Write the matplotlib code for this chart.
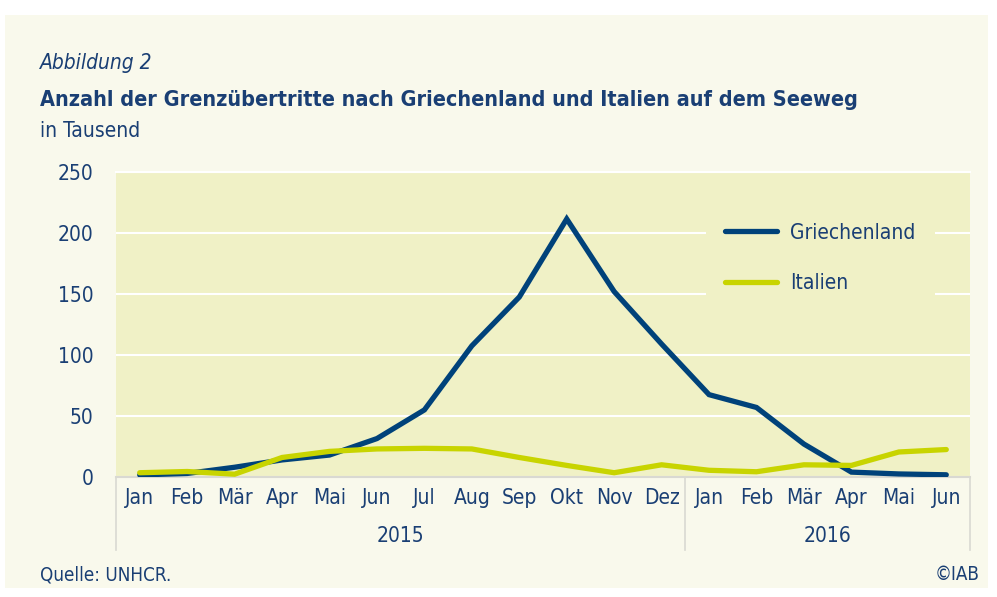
import matplotlib.pyplot as plt
from matplotlib.patches import Rectangle
from matplotlib.lines import Line2D
import matplotlib.transforms as mtransforms

months = ["Jan", "Feb", "Mär", "Apr", "Mai", "Jun", "Jul", "Aug", "Sep", "Okt", "Nov", "Dez",
          "Jan", "Feb", "Mär", "Apr", "Mai", "Jun"]
years = ["2015", "2016"]
griechenland = [1.7, 2.9, 8, 14, 18, 31.5, 55, 107.5, 147.5, 211.5, 152, 109,
                67.5, 57, 27, 4, 2.5, 1.8]
italien = [3.5, 4.5, 2.3, 16, 21, 23, 23.5, 23, 16, 9.5, 3.5, 10,
           5.5, 4.3, 10, 9.5, 20.5, 22.5]

blue = "#00427a"
lime = "#c8d400"
txt = "#1a3f74"
panel = "#f9f9ec"
plotbg = "#f0f1c6"
grey = "#d9d9d2"

plt.rcParams['font.family'] = ['DejaVu Sans']
plt.rcParams['font.stretch'] = 'condensed'

fig = plt.figure(figsize=(9.97, 5.97), dpi=100, facecolor="white")
W, H = 997, 597
fig.patches.append(Rectangle((5 / W, 1 - 588 / H), 983 / W, 573 / H,
                             transform=fig.transFigure, facecolor=panel, edgecolor="none", zorder=-5))

ax = fig.add_axes([116 / W, 1 - 477 / H, 854 / W, 305 / H])
ax.set_facecolor(plotbg)
x = range(len(months))
ax.plot(x, griechenland, color=blue, lw=3.8, solid_capstyle="round", solid_joinstyle="miter",
        label="Griechenland", zorder=3)
ax.plot(x, italien, color=lime, lw=3.8, solid_capstyle="round", solid_joinstyle="miter",
        label="Italien", zorder=3)

ax.set_xlim(-0.5, 17.5)
ax.set_ylim(0, 250)
ax.set_yticks([0, 50, 100, 150, 200, 250])
ax.set_xticks(list(x))
ax.set_xticklabels(months)
ax.tick_params(axis="both", length=0, labelsize=15, labelcolor=txt)
ax.tick_params(axis="y", pad=16)
ax.tick_params(axis="x", pad=8)
ax.grid(axis="y", color="white", lw=1.5)
ax.set_axisbelow(True)
for s in ["right", "left"]:
    ax.spines[s].set_visible(False)
ax.spines["top"].set_color("white")
ax.spines["top"].set_linewidth(1.5)
ax.spines["bottom"].set_color(grey)
ax.spines["bottom"].set_linewidth(1.5)

# year group separators and labels
trans = mtransforms.blended_transform_factory(ax.transData, ax.transAxes)
for xs in [-0.5, 11.5, 17.5]:
    ax.add_line(Line2D([xs, xs], [0, -73 / 305], transform=trans, color=grey, lw=1.2, clip_on=False))
ax.text(5.5, -59 / 305, years[0], transform=trans, ha="center", va="center", fontsize=15, color=txt)
ax.text(14.5, -59 / 305, years[1], transform=trans, ha="center", va="center", fontsize=15, color=txt)

leg = ax.legend(loc="upper left", bbox_to_anchor=(590 / 854, 1 - 32 / 305), frameon=True,
                fontsize=15, handlelength=2.5, handletextpad=0.65, labelspacing=1.45,
                borderpad=0.9, borderaxespad=0, fancybox=False)
leg.get_frame().set_facecolor(plotbg)
leg.get_frame().set_edgecolor("none")
leg.get_frame().set_alpha(1)
for t in leg.get_texts():
    t.set_color(txt)

fig.text(40 / W, 1 - 63 / H, "Abbildung 2", fontsize=15, style="italic", color=txt, va="center")
fig.text(40 / W, 1 - 100 / H, "Anzahl der Grenzübertritte nach Griechenland und Italien auf dem Seeweg",
         fontsize=15.5, weight="bold", color=txt, va="center")
fig.text(40 / W, 1 - 131 / H, "in Tausend", fontsize=15, color=txt, va="center")
fig.text(40 / W, 1 - 575 / H, "Quelle: UNHCR.", fontsize=13.5, color=txt, va="center")
fig.text(980 / W, 1 - 575 / H, "©IAB", fontsize=13.5, color=txt, va="center", ha="right")

fig.savefig("out.png", dpi=100, facecolor="white")
